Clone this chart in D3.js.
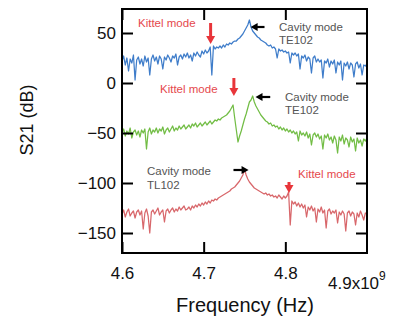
<!DOCTYPE html>
<html>
<head>
<meta charset="utf-8">
<script src="https://cdn.jsdelivr.net/npm/d3@7"></script>
<style>
  body { margin: 0; background: #fff; }
  svg { display: block; font-family: "Liberation Sans", Arial, sans-serif; }
</style>
</head>
<body>
<div id="chart"></div>
<script>
// sampling grid of the spectra (GHz)
const freqStart = 4.6;
const freqStep = 0.002;

// S21 (dB), one value per grid step
const blueTrace = [
  22, 27, 18, 25, 12, 24, 20, 28, 3, 23,
  26, 19, 24, 17, 27, 21, 25, 8, 24, 28,
  22, 26, 19, 27, 24, 14, 26, 23, 28, 25,
  21, 27, 25, 29, 18, 26, 28, 24, 29, 26,
  30, 25, 28, 22, 30, 27, 31, 28, 26, 32,
  29, 33, 30, 32, 36, 8, 37, 34, 36, 35,
  37, 35, 38, 36, 39, 38, 40, 39, 41, 42,
  42, 44, 45, 47, 49, 52, 55, 58, 63, 56,
  52, 50, 48, 46, 45, 43, 42, 41, 40, 38,
  37, 38, 35, 36, 34, 25, 34, 32, 33, 31,
  32, 30, 31, 20, 30, 28, 30, 27, 29, 14,
  27, 25, 28, 22, 26, 24, 10, 25, 27, 21,
  24, 21, 23, 5, 22, 20, 24, 16, 22, 19,
  23, 10, 21, 18, 22, 3, 20, 17, 21, 14,
  20, 18, 6, 19, 21, 15, 19, 8, 18, 17,
  19
];
const greenTrace = [
  -50, -46, -53, -48, -51, -45, -55, -49, -47, -52,
  -48, -54, -47, -50, -46, -66, -49, -45, -51, -47,
  -49, -45, -50, -46, -48, -44, -51, -47, -45, -49,
  -46, -43, -48, -45, -47, -43, -46, -44, -42, -46,
  -44, -42, -45, -41, -43, -40, -44, -42, -40, -43,
  -41, -39, -42, -40, -38, -41, -39, -37, -38, -36,
  -37, -35, -34, -33, -32, -30, -28, -25, -22, -35,
  -47, -59, -53, -48, -42, -36, -31, -25, -19, -17,
  -13, -19, -23, -26, -29, -32, -34, -36, -38, -39,
  -41, -40, -43, -42, -44, -43, -46, -44, -47, -45,
  -48, -46, -49, -47, -50, -48, -51, -49, -58, -48,
  -52, -50, -53, -49, -55, -51, -62, -52, -50, -54,
  -51, -56, -53, -66, -52, -55, -51, -57, -54, -60,
  -53, -57, -70, -54, -58, -52, -61, -55, -57, -64,
  -54, -59, -56, -68, -55, -60, -57, -63, -56, -58,
  -55
];
const redTrace = [
  -131, -127, -134, -129, -126, -133, -130, -128, -135, -129,
  -127, -132, -128, -146, -130, -126, -133, -150, -129, -127,
  -131, -128, -125, -132, -129, -127, -139, -128, -126, -130,
  -127, -125, -129, -126, -128, -124, -127, -125, -123, -127,
  -126, -124, -127, -123, -125, -122, -124, -121, -123, -120,
  -122, -119, -121, -118, -120, -117, -118, -116, -117, -115,
  -114, -113, -112, -111, -110, -109, -108, -106, -105, -104,
  -102, -100, -98, -95, -92, -86, -92, -96, -99, -101,
  -103, -105, -106, -107, -108, -109, -110, -111, -110, -112,
  -111, -113, -112, -114, -113, -115, -112, -114, -116, -113,
  -115, -113, -109, -142, -118, -121, -119, -123, -120, -124,
  -121, -125, -122, -134, -124, -127, -123, -128, -125, -139,
  -126, -129, -124, -130, -127, -145, -128, -126, -131, -128,
  -130, -127, -140, -129, -132, -128, -131, -148, -130, -128,
  -133, -129, -131, -142, -130, -134, -128, -132, -137, -130,
  -131
];

const xTicks = [4.6, 4.7, 4.8];
const yTicks = [50, 0, -50, -100, -150];

// red "Kittel mode" arrows: [freq, dB from, dB to]
const kittelArrows = [[4.7085, 60, 39], [4.737, 5, -13], [4.8045, -99, -110]];
// black cavity arrows: [freq from, freq to, dB]
const cavityArrows = [[4.7745, 4.7575, 56], [4.7815, 4.7635, -14], [4.7365, 4.755, -87]];

const width = 409, height = 322;
const margin = { top: 9, right: 42, bottom: 69, left: 122 };
const w = width - margin.left - margin.right;
const h = height - margin.top - margin.bottom;

const x = d3.scaleLinear().domain([4.6, 4.9]).range([0, w]);
const y = d3.scaleLinear().domain([74, -170]).range([0, h]);

const svg = d3.select('#chart').append('svg')
  .attr('width', width).attr('height', height);
const g = svg.append('g')
  .attr('transform', 'translate(' + margin.left + ',' + margin.top + ')');

const line = d3.line()
  .x((d, i) => x(freqStart + i * freqStep))
  .y(d => y(d));

const traces = [
  { values: blueTrace, color: '#3f7dca' },
  { values: greenTrace, color: '#72bd45' },
  { values: redTrace, color: '#d8676b' }
];
g.selectAll('.trace')
  .data(traces)
  .enter().append('path')
  .attr('class', 'trace')
  .attr('d', d => line(d.values))
  .attr('fill', 'none')
  .attr('stroke', d => d.color)
  .attr('stroke-width', 1.25)
  .attr('stroke-linejoin', 'round');

// frame
g.append('rect')
  .attr('width', w).attr('height', h)
  .attr('fill', 'none').attr('stroke', '#000').attr('stroke-width', 2);

// axes with inward ticks
const tickLen = 11;
const styleAxis = sel => {
  sel.select('.domain').remove();
  sel.selectAll('.tick line').attr('stroke', '#000').attr('stroke-width', 2);
};
g.append('g').call(d3.axisLeft(y).tickValues(yTicks).tickSize(-tickLen).tickPadding(6))
  .call(styleAxis)
  .selectAll('text')
  .style('font-size', '17px').style('font-family', '"Liberation Sans", Arial, sans-serif')
  .attr('fill', '#111');
g.append('g').attr('transform', 'translate(' + w + ',0)')
  .call(d3.axisRight(y).tickValues(yTicks).tickSize(-tickLen).tickFormat(''))
  .call(styleAxis);
g.append('g').attr('transform', 'translate(0,' + h + ')')
  .call(d3.axisBottom(x).tickValues(xTicks).tickSize(-tickLen).tickPadding(14)
    .tickFormat(d3.format('.1f')))
  .call(styleAxis)
  .selectAll('text')
  .style('font-size', '17px').style('font-family', '"Liberation Sans", Arial, sans-serif')
  .attr('fill', '#111');
g.append('g')
  .call(d3.axisTop(x).tickValues(xTicks).tickSize(-tickLen).tickFormat(''))
  .call(styleAxis);

// last x label with exponent
const lastLab = g.append('text')
  .attr('x', x(4.9) - 39).attr('y', h + 36)
  .style('font-size', '17px').attr('fill', '#111');
lastLab.append('tspan').text('4.9x10');
lastLab.append('tspan').attr('dy', -9).style('font-size', '12px').text('9');

// axis titles
svg.append('text')
  .attr('x', 245).attr('y', 312)
  .attr('text-anchor', 'middle')
  .style('font-size', '20px').attr('fill', '#111')
  .text('Frequency (Hz)');
svg.append('text')
  .attr('transform', 'translate(33,120) rotate(-90)')
  .attr('text-anchor', 'middle')
  .style('font-size', '18px').attr('fill', '#111')
  .text('S21 (dB)');

// red down arrows
const red = '#e8353a';
kittelArrows.forEach(([f, d0, d1]) => {
  const ax = x(f), y0 = y(d0), y1 = y(d1);
  g.append('line').attr('x1', ax).attr('x2', ax).attr('y1', y0).attr('y2', y1 - 6)
    .attr('stroke', red).attr('stroke-width', 3);
  g.append('path')
    .attr('d', `M${ax - 4.5},${y1 - 8}L${ax + 4.5},${y1 - 8}L${ax},${y1}Z`)
    .attr('fill', red);
});

// black cavity arrows
cavityArrows.forEach(([f0, f1, d]) => {
  const x0 = x(f0), x1 = x(f1), ay = y(d);
  const dir = Math.sign(x1 - x0);
  g.append('line').attr('x1', x0).attr('x2', x1 - dir * 5).attr('y1', ay).attr('y2', ay)
    .attr('stroke', '#000').attr('stroke-width', 2.2);
  g.append('path')
    .attr('d', `M${x1 - dir * 7},${ay - 4}L${x1 - dir * 7},${ay + 4}L${x1},${ay}Z`)
    .attr('fill', '#000');
});

// annotation labels (page pixels)
const notes = [
  { x: 138, y: 27, text: 'Kittel mode', color: '#e5484d' },
  { x: 279, y: 31, text: 'Cavity mode', color: '#555' },
  { x: 279, y: 44, text: 'TE102', color: '#555' },
  { x: 160, y: 93, text: 'Kittel mode', color: '#e5484d' },
  { x: 285, y: 101, text: 'Cavity mode', color: '#555' },
  { x: 285, y: 114, text: 'TE102', color: '#555' },
  { x: 147, y: 175, text: 'Cavity mode', color: '#555' },
  { x: 147, y: 189, text: 'TL102', color: '#555' },
  { x: 298, y: 178, text: 'Kittel mode', color: '#e5484d' }
];
svg.selectAll('.note')
  .data(notes)
  .enter().append('text')
  .attr('class', 'note')
  .attr('x', d => d.x).attr('y', d => d.y)
  .attr('fill', d => d.color)
  .style('font-size', '11.5px')
  .text(d => d.text);
</script>
</body>
</html>
